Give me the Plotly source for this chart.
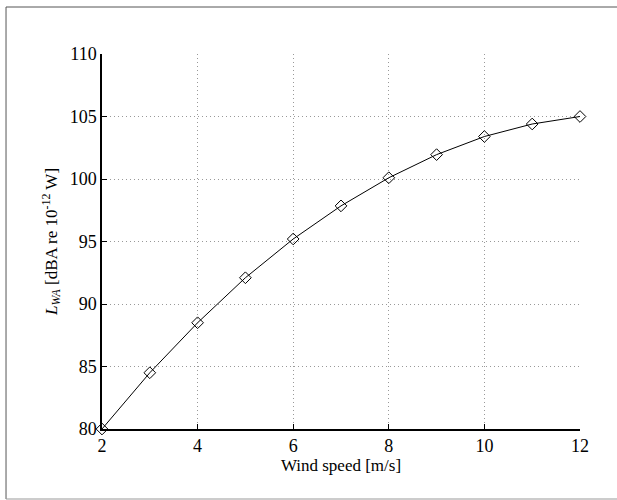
import plotly.graph_objects as go

wind_speed = [2, 3, 4, 5, 6, 7, 8, 9, 10, 11, 12]
lwa = [80.0, 84.5, 88.5, 92.1, 95.2, 97.85, 100.1, 101.95, 103.4, 104.4, 105.0]
x_ticks = [2, 4, 6, 8, 10, 12]
y_ticks = [80, 85, 90, 95, 100, 105, 110]

font_family = "Liberation Serif"

fig = go.Figure()
fig.add_trace(go.Scatter(
    x=wind_speed, y=lwa, mode="lines+markers",
    line=dict(color="black", width=1),
    marker=dict(symbol="diamond-open", size=9, color="black", line=dict(width=1)),
    cliponaxis=False,
    showlegend=False,
))

axis_common = dict(
    showline=True, linecolor="black", linewidth=1.5,
    ticks="inside", ticklen=5, tickcolor="black", tickwidth=1,
    showgrid=True, gridcolor="#999999", griddash="1px,3px", gridwidth=1,
    zeroline=False,
    tickfont=dict(family=font_family, size=18, color="black"),
)

fig.update_xaxes(
    range=[2, 12], tickvals=x_ticks,
    title=dict(text="Wind speed [m/s]", font=dict(family=font_family, size=17, color="black"), standoff=4),
    **axis_common,
)
fig.update_yaxes(
    range=[80, 110], tickvals=y_ticks,
    title=dict(text="<i>L</i><sub><i>WA</i></sub> [dBA re 10<sup>-12</sup> W]",
               font=dict(family=font_family, size=17, color="black"), standoff=8),
    **axis_common,
)

frame = dict(color="#555555", width=1)
fig.update_layout(
    width=617, height=500,
    margin=dict(l=102, r=37, t=54, b=71),
    paper_bgcolor="white", plot_bgcolor="white",
    font=dict(family=font_family, color="black"),
    shapes=[
        dict(type="line", xref="paper", yref="paper", x0=-0.2008, x1=-0.2008, y0=-0.1867, y1=1.1253, line=frame, layer="below"),
        dict(type="line", xref="paper", yref="paper", x0=-0.2008, x1=1.2, y0=1.1253, y1=1.1253, line=frame, layer="below"),
        dict(type="line", xref="paper", yref="paper", x0=-0.2008, x1=1.2, y0=-0.1867, y1=-0.1867, line=dict(color="#999999", width=1), layer="below"),
    ],
)

fig.write_html("out.html")
